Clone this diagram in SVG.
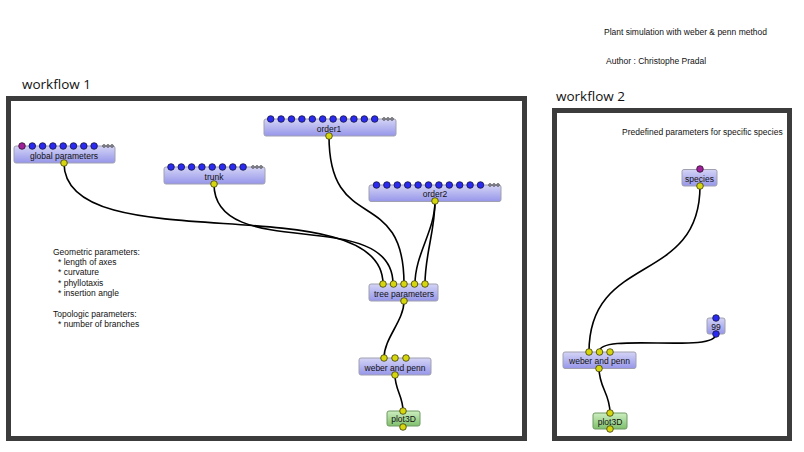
<svg xmlns="http://www.w3.org/2000/svg" width="804" height="452" viewBox="0 0 804 452">
<defs>
<linearGradient id="gBlue" x1="0" y1="0" x2="0" y2="1">
<stop offset="0" stop-color="#d4d4f6"/>
<stop offset="1" stop-color="#9696ea"/>
</linearGradient>
<linearGradient id="gGreen" x1="0" y1="0" x2="0" y2="1">
<stop offset="0" stop-color="#cdeec0"/>
<stop offset="1" stop-color="#7fbf6c"/>
</linearGradient>
<style>
.frame{fill:#ffffff;stroke:#3c3c3c;stroke-width:5}
.title{font-family:"Open Sans","Liberation Sans",sans-serif;font-size:13.5px;fill:#111}
.note{font-family:"Liberation Sans",sans-serif;font-size:8.5px;fill:#111}
.box{fill:url(#gBlue);stroke:#a0a0b0;stroke-width:1}
.boxg{fill:url(#gGreen);stroke:#6f9a62;stroke-width:1}
.lbl{font-family:"Liberation Sans",sans-serif;font-size:8.5px;fill:#111;text-anchor:middle}
.pb{fill:#2a2af0;stroke:#151540;stroke-width:0.8}
.pm{fill:#a0209a;stroke:#301030;stroke-width:0.8}
.py{fill:#d6d60e;stroke:#3a3a10;stroke-width:0.8}
.pe{fill:#9a9aa8;stroke:#333;stroke-width:0.6}
.edge{fill:none;stroke:#000;stroke-width:1.6}
</style>
</defs>
<rect x="0" y="0" width="804" height="452" fill="#ffffff"/>
<text class="note" x="604" y="35">Plant simulation with weber &amp; penn method</text>
<text class="note" x="606" y="64">Author : Christophe Pradal</text>
<text class="title" x="22" y="89">workflow 1</text>
<text class="title" x="556" y="101">workflow 2</text>
<rect class="frame" x="8.5" y="98.5" width="516" height="340"/>
<rect class="frame" x="554.5" y="110.5" width="235" height="328"/>
<text class="note" x="622" y="135">Predefined parameters for specific species</text>
<g id="notes" class="note">
<text x="53" y="255">Geometric parameters:</text>
<text x="58" y="265">* length of axes</text>
<text x="58" y="275">* curvature</text>
<text x="58" y="285.5">* phyllotaxis</text>
<text x="58" y="296">* insertion angle</text>
<text x="53" y="317">Topologic parameters:</text>
<text x="58" y="327">* number of branches</text>
</g>
<g id="connectors">
<path class="edge" d="M64,163 C64,263 383,184 383,284"/>
<path class="edge" d="M214,184 C214,264 393,204 393,284"/>
<path class="edge" d="M329,136 C329,236 404,184 404,284"/>
<path class="edge" d="M435,201 C435,231 415,254 415,284"/>
<path class="edge" d="M435,201 C435,231 425,254 425,284"/>
<path class="edge" d="M404,301 C404,321 384,338 384,358"/>
<path class="edge" d="M395,375 C395,390 403,396 403,411"/>
<path class="edge" d="M700,186 C700,286 589,252 589,352"/>
<path class="edge" d="M716,334 C716,354 599,332 599,352"/>
<path class="edge" d="M599,368 C599,388 610,393 610,413"/>
</g>
<g id="global_parameters">
<rect class="box" x="14" y="146" width="101" height="17" rx="2"/>
<text class="lbl" x="64" y="158.5">global parameters</text>
<circle class="pm" cx="22" cy="146" r="3.3"/>
<circle class="pb" cx="32.3" cy="146" r="3.3"/><circle class="pb" cx="42.6" cy="146" r="3.3"/><circle class="pb" cx="52.9" cy="146" r="3.3"/><circle class="pb" cx="63.2" cy="146" r="3.3"/><circle class="pb" cx="73.5" cy="146" r="3.3"/><circle class="pb" cx="83.8" cy="146" r="3.3"/><circle class="pb" cx="94.1" cy="146" r="3.3"/>
<circle class="pe" cx="104" cy="146" r="1.4"/><circle class="pe" cx="108" cy="146" r="1.4"/><circle class="pe" cx="112" cy="146" r="1.4"/>
<circle class="py" cx="64" cy="163" r="3.3"/>
</g>
<g id="trunk">
<rect class="box" x="164" y="167" width="101" height="17" rx="2"/>
<text class="lbl" x="214" y="179.5">trunk</text>
<circle class="pb" cx="171" cy="167" r="3.3"/><circle class="pb" cx="181.3" cy="167" r="3.3"/><circle class="pb" cx="191.6" cy="167" r="3.3"/><circle class="pb" cx="201.9" cy="167" r="3.3"/><circle class="pb" cx="212.2" cy="167" r="3.3"/><circle class="pb" cx="222.5" cy="167" r="3.3"/><circle class="pb" cx="232.8" cy="167" r="3.3"/><circle class="pb" cx="243.1" cy="167" r="3.3"/>
<circle class="pe" cx="253" cy="167" r="1.4"/><circle class="pe" cx="257" cy="167" r="1.4"/><circle class="pe" cx="261" cy="167" r="1.4"/>
<circle class="py" cx="214" cy="184" r="3.3"/>
</g>
<g id="order1">
<rect class="box" x="264" y="119" width="132" height="17" rx="2"/>
<text class="lbl" x="329" y="131.5">order1</text>
<circle class="pb" cx="270.7" cy="119" r="3.3"/><circle class="pb" cx="281.1" cy="119" r="3.3"/><circle class="pb" cx="291.5" cy="119" r="3.3"/><circle class="pb" cx="301.9" cy="119" r="3.3"/><circle class="pb" cx="312.3" cy="119" r="3.3"/><circle class="pb" cx="322.7" cy="119" r="3.3"/><circle class="pb" cx="333.1" cy="119" r="3.3"/><circle class="pb" cx="343.5" cy="119" r="3.3"/><circle class="pb" cx="353.9" cy="119" r="3.3"/><circle class="pb" cx="364.3" cy="119" r="3.3"/><circle class="pb" cx="374.7" cy="119" r="3.3"/>
<circle class="pe" cx="384" cy="119" r="1.4"/><circle class="pe" cx="388" cy="119" r="1.4"/><circle class="pe" cx="392" cy="119" r="1.4"/>
<circle class="py" cx="329" cy="136" r="3.3"/>
</g>
<g id="order2">
<rect class="box" x="369" y="185" width="132" height="16.5" rx="2"/>
<text class="lbl" x="435" y="197">order2</text>
<circle class="pb" cx="376.5" cy="185" r="3.3"/><circle class="pb" cx="386.9" cy="185" r="3.3"/><circle class="pb" cx="397.3" cy="185" r="3.3"/><circle class="pb" cx="407.7" cy="185" r="3.3"/><circle class="pb" cx="418.1" cy="185" r="3.3"/><circle class="pb" cx="428.5" cy="185" r="3.3"/><circle class="pb" cx="438.9" cy="185" r="3.3"/><circle class="pb" cx="449.3" cy="185" r="3.3"/><circle class="pb" cx="459.7" cy="185" r="3.3"/><circle class="pb" cx="470.1" cy="185" r="3.3"/><circle class="pb" cx="480.5" cy="185" r="3.3"/>
<circle class="pe" cx="490" cy="185" r="1.4"/><circle class="pe" cx="494" cy="185" r="1.4"/><circle class="pe" cx="498" cy="185" r="1.4"/>
<circle class="py" cx="435" cy="201" r="3.3"/>
</g>
<g id="tree_parameters">
<rect class="box" x="369" y="284" width="69" height="17" rx="2"/>
<text class="lbl" x="404" y="296.5">tree parameters</text>
<circle class="py" cx="383" cy="284" r="3.3"/><circle class="py" cx="393.5" cy="284" r="3.3"/><circle class="py" cx="404" cy="284" r="3.3"/><circle class="py" cx="414.5" cy="284" r="3.3"/><circle class="py" cx="425" cy="284" r="3.3"/>
<circle class="py" cx="404" cy="301" r="3.3"/>
</g>
<g id="weber_and_penn_1">
<rect class="box" x="359" y="358" width="72" height="17" rx="2"/>
<text class="lbl" x="395" y="370.5">weber and penn</text>
<circle class="py" cx="384" cy="358" r="3.3"/><circle class="py" cx="395" cy="358" r="3.3"/><circle class="py" cx="406" cy="358" r="3.3"/>
<circle class="py" cx="395" cy="375" r="3.3"/>
</g>
<g id="plot3D_1">
<rect class="boxg" x="387" y="411" width="33" height="15" rx="2"/>
<text class="lbl" x="403.5" y="422">plot3D</text>
<circle class="py" cx="403" cy="411" r="3.3"/>
<circle class="py" cx="403" cy="427" r="3.3"/>
</g>
<g id="species">
<rect class="box" x="682" y="169.5" width="35" height="16.5" rx="2"/>
<text class="lbl" x="699.5" y="181.5">species</text>
<circle class="pm" cx="700" cy="169" r="3.3"/>
<circle class="py" cx="700" cy="186" r="3.3"/>
</g>
<g id="n99">
<rect class="box" x="707" y="318" width="18" height="16" rx="2"/>
<text class="lbl" x="716" y="329.5">99</text>
<circle class="pb" cx="716" cy="318" r="3.3"/>
<circle class="pb" cx="716" cy="334" r="3.3"/>
</g>
<g id="weber_and_penn_2">
<rect class="box" x="563" y="352" width="73" height="16.5" rx="2"/>
<text class="lbl" x="599.5" y="364">weber and penn</text>
<circle class="py" cx="589" cy="352" r="3.3"/><circle class="py" cx="599.5" cy="352" r="3.3"/><circle class="py" cx="610" cy="352" r="3.3"/>
<circle class="py" cx="599" cy="368.5" r="3.3"/>
</g>
<g id="plot3D_2">
<rect class="boxg" x="593" y="413" width="34" height="16" rx="2"/>
<text class="lbl" x="610" y="425">plot3D</text>
<circle class="py" cx="610" cy="413" r="3.3"/>
<circle class="py" cx="610" cy="429" r="3.3"/>
</g>
</svg>
